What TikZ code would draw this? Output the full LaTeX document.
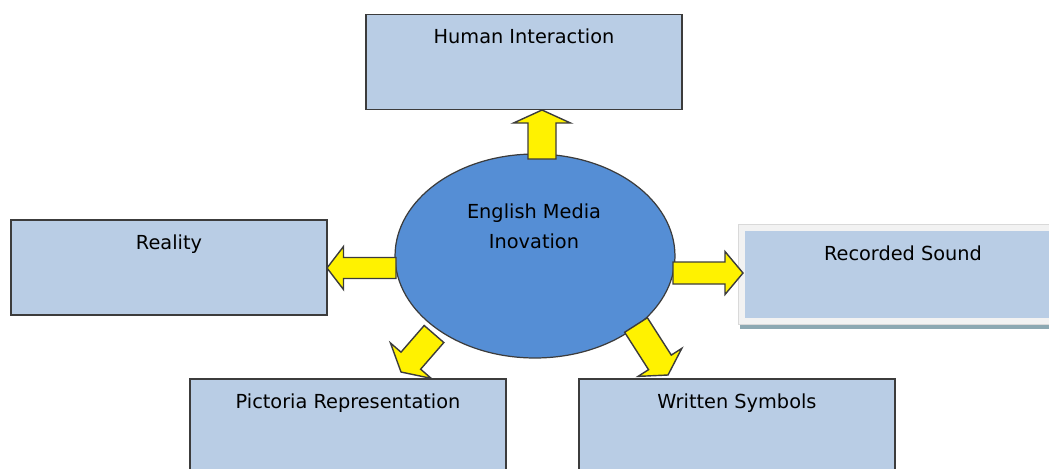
\documentclass[tikz,border=0pt]{standalone}
\usepackage{fontspec}
\setmainfont{DejaVu Sans}
\usetikzlibrary{calc,positioning,shapes.geometric}
\pgfdeclarelayer{edgelayer}
\pgfdeclarelayer{nodelayer}
\pgfsetlayers{nodelayer,edgelayer,main}
\definecolor{boxblue}{RGB}{185,205,229}
\definecolor{hubblue}{RGB}{85,142,213}
\definecolor{rimgrey}{RGB}{60,60,60}
\definecolor{framegrey}{RGB}{242,242,242}
\definecolor{shadeteal}{RGB}{140,168,178}
\tikzset{font=\fontsize{11}{13}\selectfont}
\tikzstyle{medium}=[rectangle,fill=boxblue,draw=rimgrey,line width=0.7pt,minimum width=6.32cm,minimum height=1.9cm,inner sep=0pt]
\tikzstyle{flat}=[rectangle,fill=boxblue,minimum width=6.32cm,minimum height=1.74cm,inner sep=0pt]
\tikzstyle{hub}=[ellipse,fill=hubblue,draw=rimgrey,line width=0.7pt,minimum width=5.6cm,minimum height=4.08cm,inner sep=0pt]
\tikzstyle{caption}=[anchor=base,yshift=-0.6cm,inner sep=0pt]
% fat yellow arrow: #1 half shaft, #2 half head, #3 head length
\tikzset{blockarrow/.style n args={3}{fill=yellow,draw=rimgrey,line width=0.8pt,line join=miter,
  to path={
    -- ($(\tikztostart)!#1!90:(\tikztotarget)$)
    -- ($(\tikztotarget)!#3!(\tikztostart)!#1!-90:(\tikztostart)$)
    -- ($(\tikztotarget)!#3!(\tikztostart)!#2!-90:(\tikztostart)$)
    -- (\tikztotarget)
    -- ($(\tikztotarget)!#3!(\tikztostart)!#2!90:(\tikztostart)$)
    -- ($(\tikztotarget)!#3!(\tikztostart)!#1!90:(\tikztostart)$)
    -- ($(\tikztostart)!#1!-90:(\tikztotarget)$)
    -- cycle}}}

\begin{document}
\begin{tikzpicture}[x=0.02cm,y=-0.02cm]
	\useasboundingbox (0,0) rectangle (1049,468);
	\clip (0,0) rectangle (1049,468);
	\begin{pgfonlayer}{nodelayer}
		\node [style=medium,label={[caption]north:Human Interaction}] (human) at (524,62) {};
		\node [style=medium,label={[caption]north:Reality}] (real) at (169,267.5) {};
		\node [style=medium,label={[caption]north:Pictoria Representation}] (pict) at (348,426.5) {};
		\node [style=medium,label={[caption]north:Written Symbols}] (written) at (737,426.5) {};
		% recorded sound sits in a pale frame with a shadow line
		\fill [shadeteal] (740,324) rectangle (1049,329);
		\filldraw [fill=framegrey,draw=black!15,line width=0.5pt] (738,224) rectangle (1055,324);
		\node [style=flat,label={[caption]north:Recorded Sound}] (sound) at (903,274.5) {};
		\node [style=hub] (hub) at (535,256) {};
		\node [align=center,font=\fontsize{11}{17}\selectfont] (hubtext) at (534,226) {English Media\\Inovation};
	\end{pgfonlayer}
	\begin{pgfonlayer}{edgelayer}
		\coordinate (upT) at (542,159);
		\coordinate (upP) at (542,110);
		\coordinate (leftT) at (396,268);
		\coordinate (leftP) at (327,268);
		\coordinate (rightT) at (673,273);
		\coordinate (rightP) at (743,273);
		\coordinate (llT) at (434,334);
		\coordinate (llP) at (401,372);
		\coordinate (lrT) at (636,325);
		\coordinate (lrP) at (668,375);
		\draw [blockarrow={0.28cm}{0.57cm}{0.26cm}] (upT) to (upP);
		\draw [blockarrow={0.21cm}{0.43cm}{0.33cm}] (leftT) to (leftP);
		\draw [blockarrow={0.22cm}{0.43cm}{0.36cm}] (rightT) to (rightP);
		\draw [blockarrow={0.26cm}{0.54cm}{0.3cm}] (llT) to (llP);
		\draw [blockarrow={0.27cm}{0.52cm}{0.3cm}] (lrT) to (lrP);
	\end{pgfonlayer}
\end{tikzpicture}
\end{document}
